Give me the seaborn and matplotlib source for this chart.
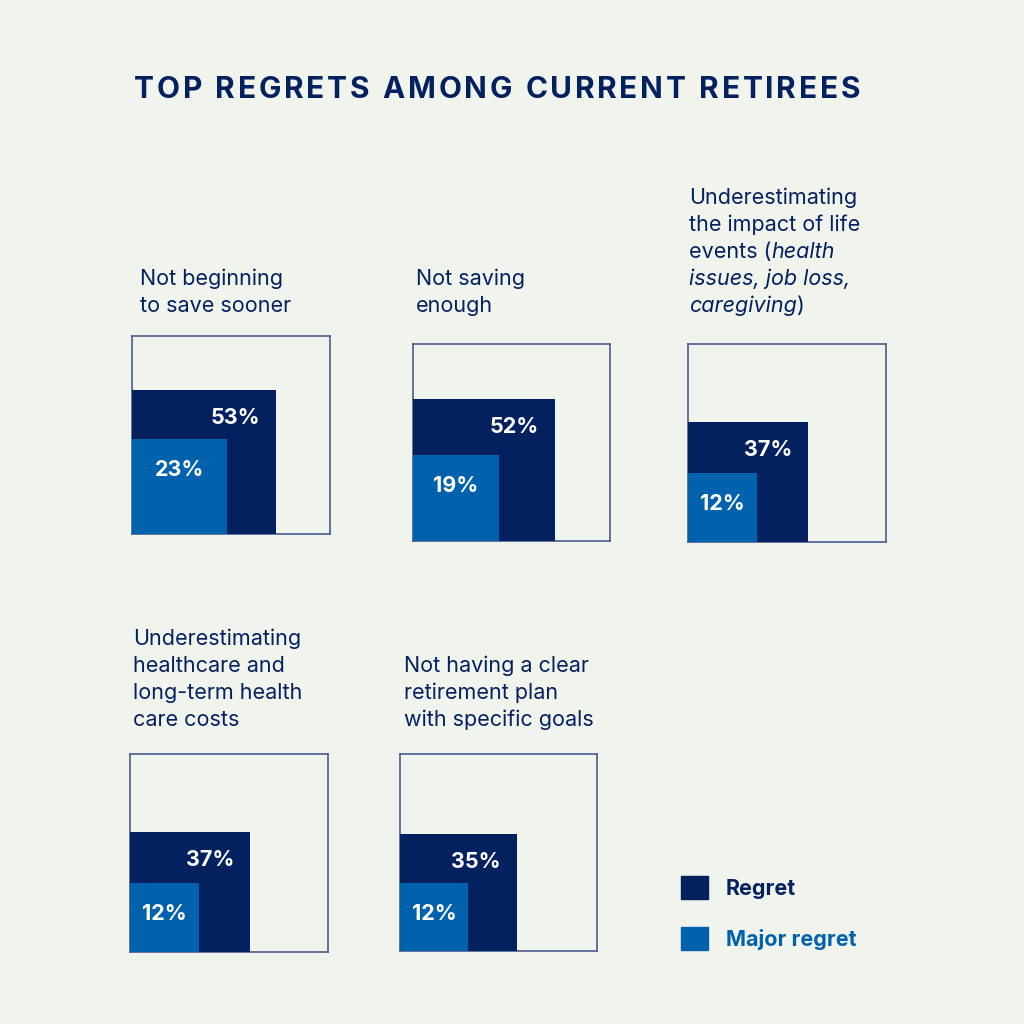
import re
import numpy as np
import matplotlib.pyplot as plt
import seaborn as sns
from matplotlib.patches import Patch

bg = '#f1f3ed'
navy = '#04215f'
blue = '#0061ad'
edge = '#4a5c8f'

title = 'TOP REGRETS AMONG CURRENT RETIREES'
regret = [53, 52, 37, 37, 35]
major = [23, 19, 12, 12, 12]
labels = [
    ['Not beginning', 'to save sooner'],
    ['Not saving', 'enough'],
    ['Underestimating', 'the impact of life', 'events (<i>health</i>',
     '<i>issues, job loss,</i>', '<i>caregiving</i>)'],
    ['Underestimating', 'healthcare and', 'long-term health', 'care costs'],
    ['Not having a clear', 'retirement plan', 'with specific goals'],
]
legend_names = ['Regret', 'Major regret']

# layout in pixels: (left, top, side) of each box, and first baseline of its label
boxes = [(132, 336, 198), (413, 344, 197), (688, 344, 198), (130, 754, 198), (400, 754, 197)]
label_pos = [(140, 285), (416, 285), (689, 204), (133, 645), (404, 672)]

sns.set_theme(style='white', rc={'figure.facecolor': bg, 'axes.facecolor': bg})
plt.rcParams['font.family'] = ['Inter', 'DejaVu Sans']

fig = plt.figure(figsize=(10.24, 10.24), dpi=100)
base = fig.add_axes([0, 0, 1, 1])
base.set_xlim(0, 1024)
base.set_ylim(1024, 0)
base.axis('off')
rend = fig.canvas.get_renderer()

# title with letter spacing
tsize = 21.5
chars = [base.text(0, 98, c, fontsize=tsize, fontweight='bold', color=navy, va='baseline')
         for c in title]
widths = [0 if c == ' ' else t.get_window_extent(rend).width for c, t in zip(title, chars)]
space_w = 0.26 * tsize * 100 / 72
total = sum(widths) + space_w * title.count(' ')
gap = (860 - 134 - total) / (len(title) - 1)
cx = 134
for c, t, w in zip(title, chars, widths):
    t.set_x(cx)
    cx += (space_w if c == ' ' else w) + gap


def draw_label(x, y, lines):
    for k, line in enumerate(lines):
        cx = x
        for part in re.split(r'(<i>.*?</i>)', line):
            if not part:
                continue
            ital = part.startswith('<i>')
            s = part[3:-4] if ital else part
            t = base.text(cx, y + k * 27, s, fontsize=15.5, color=navy, va='baseline',
                          style='italic' if ital else 'normal')
            cx += t.get_window_extent(rend).width


for i, (x0, y0, side) in enumerate(boxes):
    ax = fig.add_axes([x0 / 1024, 1 - (y0 + side) / 1024, side / 1024, side / 1024])
    ax.set_xlim(0, 1)
    ax.set_ylim(0, 1)
    ax.set_facecolor('none')
    ax.set_xticks([])
    ax.set_yticks([])
    for sp in ax.spines.values():
        sp.set_color(edge)
        sp.set_linewidth(1.2)
    r = np.sqrt(regret[i] / 100)
    m = np.sqrt(major[i] / 100)
    ax.bar(0, r, width=r, align='edge', color=navy, linewidth=0, zorder=3)
    ax.bar(0, m, width=m, align='edge', color=blue, linewidth=0, zorder=3)
    ax.annotate(f'{regret[i]}%', (r, r), xytext=(-16, -28), textcoords='offset pixels',
                ha='right', va='center', color='white', fontsize=15.5, fontweight='bold', zorder=4)
    ax.annotate(f'{major[i]}%', (m / 2, m), xytext=(0, -31), textcoords='offset pixels',
                ha='center', va='center', color='white', fontsize=15.5, fontweight='bold', zorder=4)
    draw_label(*label_pos[i], labels[i])

leg = fig.legend(handles=[Patch(color=navy), Patch(color=blue)], labels=legend_names,
                 loc='upper left', bbox_to_anchor=(681 / 1024, 1 - 876 / 1024),
                 frameon=False, prop={'size': 15.5, 'weight': 'bold'},
                 handlelength=1.26, handleheight=1.26, handletextpad=0.82,
                 labelspacing=1.3, borderpad=0, borderaxespad=0)
for txt, col in zip(leg.get_texts(), [navy, blue]):
    txt.set_color(col)

fig.savefig('out.png', dpi=100, facecolor=bg)
